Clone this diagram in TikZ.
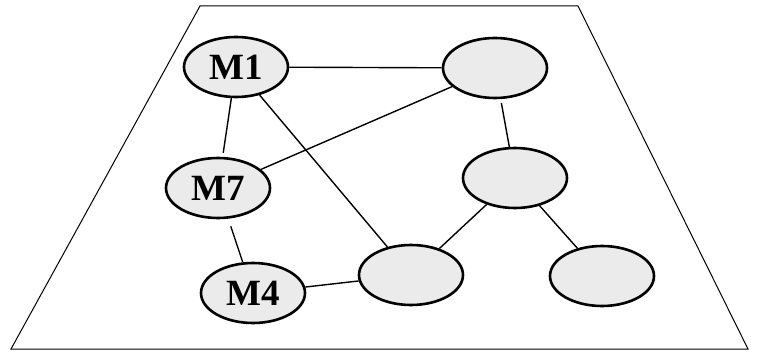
\documentclass[tikz,border=0pt]{standalone}
\usepackage{fontspec}
\setmainfont{Liberation Serif}
\usepackage{tikz}
\usetikzlibrary{shapes.geometric}

\begin{document}
\begin{tikzpicture}[x=1pt, y=-1pt,
		site/.style={shape=ellipse, draw, line width=2.6pt, fill=black!8,
			minimum width=104pt, minimum height=60pt, inner sep=0pt,
			font=\fontsize{37}{37}\selectfont\bfseries},
		link/.style={line width=1.4pt}]
		\useasboundingbox (0,0) rectangle (758,353);
		% plane
		\draw[line width=1pt] (200,6) -- (578,6) -- (748,349) -- (11,349) -- cycle;
		% sites
		\node[site] (m1) at (236,67) {M1};
		\node[site] (tr) at (495,68) {};
		\node[site] (m7) at (218,188) {M7};
		\node[site] (mr) at (515,178) {};
		\node[site] (m4) at (253,293) {M4};
		\node[site] (bm) at (411,275) {};
		\node[site] (br) at (602,276) {};
		% links
		\path[link]
		(m1) edge (tr)
		(m1) edge[shorten >=4pt] (m7)
		(m1) edge (bm)
		(m7) edge (tr)
		(m7) edge[shorten <=8pt] (m4)
		(m4) edge (bm)
		(tr) edge[shorten <=4pt] (mr)
		(mr) edge (bm)
		(mr) edge (br);
	\end{tikzpicture}
\end{document}
